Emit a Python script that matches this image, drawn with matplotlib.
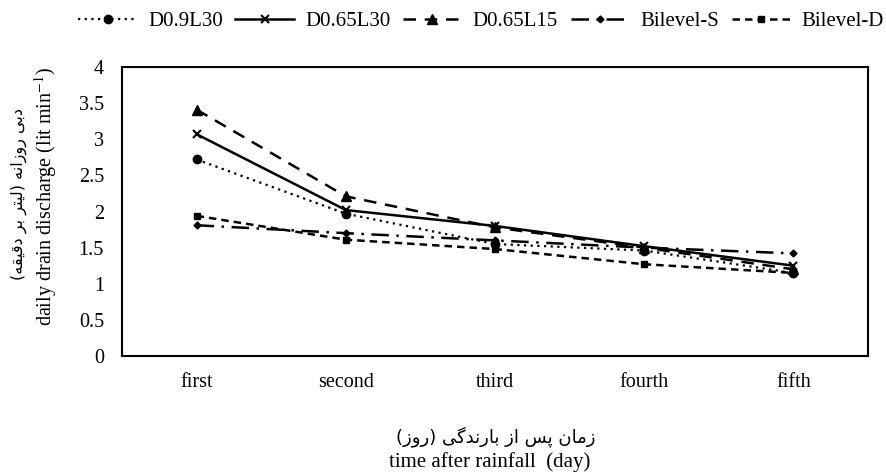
import matplotlib
matplotlib.use("Agg")
import matplotlib.pyplot as plt
from matplotlib.ticker import FuncFormatter

days = ["first", "second", "third", "fourth", "fifth"]
d09_l30 = [2.72, 1.97, 1.55, 1.46, 1.15]
d065_l30 = [3.07, 2.02, 1.80, 1.52, 1.25]
d065_l15 = [3.41, 2.21, 1.78, 1.50, 1.20]
bilevel_s = [1.81, 1.70, 1.60, 1.50, 1.42]
bilevel_d = [1.94, 1.61, 1.48, 1.27, 1.15]

# persian strings (logical order); shaped by hand below since matplotlib has no bidi
fa_ylabel = "دبی روزانه (لیتر بر دقیقه)"
fa_xlabel = "زمان پس از بارندگی (روز)"
en_ylabel = "daily drain discharge (lit min$^{-1}$)"
en_xlabel = "time after rainfall  (day)"

# char: (isolated, final, initial, medial)
FORMS = {
    "ا": ("\ufe8d", "\ufe8e"),
    "د": ("\ufea9", "\ufeaa"),
    "ر": ("\ufead", "\ufeae"),
    "ز": ("\ufeaf", "\ufeb0"),
    "و": ("\ufeed", "\ufeee"),
    "ب": ("\ufe8f", "\ufe90", "\ufe91", "\ufe92"),
    "ت": ("\ufe95", "\ufe96", "\ufe97", "\ufe98"),
    "س": ("\ufeb1", "\ufeb2", "\ufeb3", "\ufeb4"),
    "ق": ("\ufed5", "\ufed6", "\ufed7", "\ufed8"),
    "ل": ("\ufedd", "\ufede", "\ufedf", "\ufee0"),
    "م": ("\ufee1", "\ufee2", "\ufee3", "\ufee4"),
    "ن": ("\ufee5", "\ufee6", "\ufee7", "\ufee8"),
    "ه": ("\ufee9", "\ufeea", "\ufeeb", "\ufeec"),
    "پ": ("\ufb56", "\ufb57", "\ufb58", "\ufb59"),
    "گ": ("\ufb92", "\ufb93", "\ufb94", "\ufb95"),
    "ی": ("\ufbfc", "\ufbfd", "\ufbfe", "\ufbff"),
}


def shape_fa(s):
    out = []
    for i, c in enumerate(s):
        if c not in FORMS:
            out.append(c)
            continue
        prev = s[i - 1] if i > 0 else ""
        nxt = s[i + 1] if i + 1 < len(s) else ""
        join_prev = prev in FORMS and len(FORMS[prev]) == 4
        join_next = len(FORMS[c]) == 4 and nxt in FORMS
        f = FORMS[c]
        if join_prev and join_next:
            out.append(f[3])
        elif join_prev:
            out.append(f[1])
        elif join_next:
            out.append(f[2])
        else:
            out.append(f[0])
    vis = "".join(reversed(out))
    return vis.replace("(", "\0").replace(")", "(").replace("\0", ")")


plt.rcParams["mathtext.fontset"] = "stix"
fam = ["Liberation Serif", "DejaVu Sans"]

fig = plt.figure(figsize=(8.86, 4.72), dpi=100)
ax = fig.add_axes([0.1377, 0.2458, 0.842, 0.6122])

x = range(len(days))
ax.plot(x, d09_l30, color="black", lw=1.6, ls=(0, (1, 2)), marker="o", ms=6, label="D0.9L30")
ax.plot(x, d065_l30, color="black", lw=1.8, ls="-", marker="x", ms=6, mew=1.5, label="D0.65L30")
ax.plot(x, d065_l15, color="black", lw=1.8, ls=(0, (5, 3.5)), marker="^", ms=7, label="D0.65L15")
ax.plot(x, bilevel_s, color="black", lw=1.8, ls=(0, (7, 3, 1, 3)), marker="D", ms=3.5, label="Bilevel-S")
ax.plot(x, bilevel_d, color="black", lw=1.8, ls=(0, (3, 2)), marker="s", ms=5, label="Bilevel-D")

ax.set_xlim(-0.5, 4.5)
ax.set_ylim(0, 4)
ax.set_yticks([i * 0.5 for i in range(9)])
ax.yaxis.set_major_formatter(FuncFormatter(lambda v, p: "%g" % v))
ax.set_xticks(list(x))
ax.set_xticklabels(days)
ax.tick_params(axis="both", length=0, labelsize=14.5)
ax.tick_params(axis="y", pad=13)
ax.tick_params(axis="x", pad=12)
for lab in ax.get_xticklabels() + ax.get_yticklabels():
    lab.set_family(fam)
for sp in ax.spines.values():
    sp.set_linewidth(1.5)
    sp.set_color("black")

# axis titles: persian line above english line
fig.text(0.021, 0.589, shape_fa(fa_ylabel), rotation=90, ha="center", va="center",
         family="DejaVu Sans", fontsize=11.5)
fig.text(0.051, 0.585, en_ylabel, rotation=90, ha="center", va="center",
         family=fam, fontsize=14.5)
fig.text(0.559, 0.074, shape_fa(fa_xlabel), ha="center", va="center",
         family="DejaVu Sans", fontsize=13)
fig.text(0.553, 0.021, en_xlabel, ha="center", va="center",
         family=fam, fontsize=15)

fig.legend(loc="center", bbox_to_anchor=(0.543, 0.955), ncol=5, frameon=False,
           handlelength=2.8, columnspacing=0.6, handletextpad=0.55,
           prop={"family": fam, "size": 15})

fig.savefig("out.png", dpi=100)
